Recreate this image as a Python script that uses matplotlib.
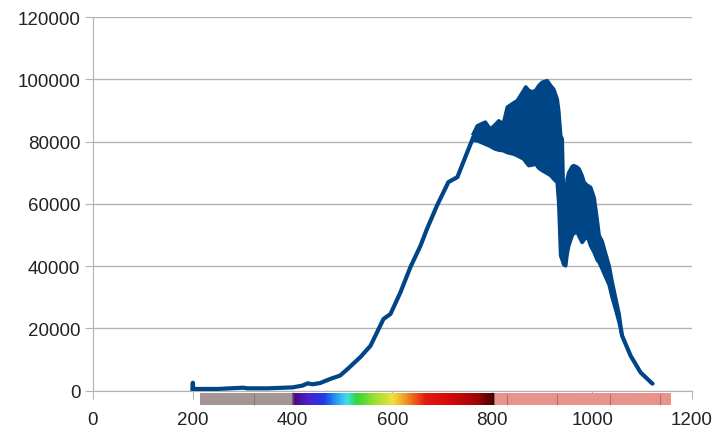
import numpy as np
import matplotlib
matplotlib.use("Agg")
import matplotlib.pyplot as plt
from matplotlib.colors import LinearSegmentedColormap

# smooth rising part of the spectrum (wavelength nm, counts)
head_wl = [199, 200, 201, 205, 250, 300, 310, 350, 400, 420, 430, 440, 455, 475,
           495, 510, 536, 556, 569, 582, 596, 616, 636, 656, 669, 689, 712, 730,
           750, 762]
head_val = [300, 2500, 300, 500, 500, 900, 700, 700, 1000, 1600, 2300, 2000, 2400, 3700,
            4800, 6900, 10800, 14400, 18700, 23000, 24600, 31600, 39700, 46500, 51900,
            59400, 67000, 68600, 76700, 81500]

# noisy region, upper and lower envelope of the signal
band_wl = [762, 770, 786, 796, 806, 813, 822, 830, 843, 850, 863, 867, 873, 880, 887, 893,
           900, 910, 917, 923, 930, 933, 937, 940, 943, 947, 950, 953, 960, 963, 970,
           974, 980, 984, 990, 997, 1004, 1010, 1014, 1020, 1027, 1034, 1040, 1048,
           1054, 1058]
band_hi = [82500, 85100, 86300, 84000, 85500, 86700, 85700, 91100, 92500, 93200, 96500, 97600,
           96500, 96000, 96500, 98000, 99100, 99600, 98000, 96900, 93700, 90000, 81900,
           80900, 60000, 62000, 68000, 70000, 72000, 72300, 71800, 71200, 69000, 66900,
           66000, 65300, 62000, 55000, 49800, 48000, 44000, 40100, 35000, 29000, 24500,
           20000]
band_lo = [80500, 80300, 79200, 78500, 77600, 77300, 77100, 76500, 76000, 75500, 74400, 73500,
           72300, 72500, 72800, 71500, 70700, 69800, 69100, 68000, 66900, 60500, 43300,
           42000, 40500, 40100, 44000, 46500, 49800, 50500, 50900, 49500, 47600, 48500,
           49800, 46500, 44400, 42000, 41200, 39100, 36500, 34000, 30000, 25500, 21900,
           19000]

# tail
tail_wl = [1058, 1060, 1077, 1097, 1118, 1121]
tail_val = [19500, 17600, 11200, 5800, 2600, 2200]

# colour strip under the axis
strip_stops = [215, 399, 400, 430, 462, 490, 508, 528, 560, 600, 630, 665, 720, 770, 805,
               806, 1157]
strip_colors = ["#a39695", "#a39695", "#4a0a70", "#4b20d0", "#1e3ce6", "#2aa8f0",
                "#3fe0e8", "#34d43a", "#90e030", "#f0e040", "#f08a20", "#e41a10",
                "#d00808", "#a00404", "#3a0000", "#e8948a", "#e8948a"]
strip_marks = [322, 830, 930, 1035, 1135]

plt.rcParams['font.family'] = ['Liberation Sans', 'DejaVu Sans']
plt.rcParams['font.size'] = 13.5

fig = plt.figure(figsize=(7.17, 4.35), dpi=100)
ax = fig.add_axes([0.1297, 0.1, 0.9651 - 0.1297, 0.958 - 0.1])

blue = "#004586"
ax.plot(head_wl, head_val, color=blue, lw=3.0, solid_capstyle='round',
        solid_joinstyle='round', zorder=4)
ax.fill_between(band_wl, band_lo, band_hi, color=blue, lw=0, zorder=4)
ax.plot(band_wl, band_hi, color=blue, lw=2.6, solid_joinstyle='round', zorder=4)
ax.plot(band_wl, band_lo, color=blue, lw=2.6, solid_joinstyle='round', zorder=4)
ax.plot(tail_wl, tail_val, color=blue, lw=3.0, solid_capstyle='round',
        solid_joinstyle='round', zorder=4)

# spectrum strip
lo, hi = strip_stops[0], strip_stops[-1]
pos = [(s - lo) / (hi - lo) for s in strip_stops]
cmap = LinearSegmentedColormap.from_list("spec", list(zip(pos, strip_colors)))
grad = np.linspace(0, 1, 1000).reshape(1, -1)
ax.imshow(grad, cmap=cmap, aspect='auto', extent=[lo, hi, -4700, -1100],
          clip_on=False, zorder=3, interpolation='bilinear')
ax.vlines(strip_marks, -4700, -1100, colors="#8a5a55", lw=0.8, alpha=0.6,
          clip_on=False, zorder=3)

ax.set_xlim(0, 1200)
ax.set_ylim(0, 120000)
ax.set_xticks(range(0, 1201, 200))
ax.set_yticks(range(0, 120001, 20000))
ax.grid(axis='y', color='#b3b3b3', lw=1)
ax.set_axisbelow(True)
for s in ['top', 'right']:
    ax.spines[s].set_visible(False)
for s in ['left', 'bottom']:
    ax.spines[s].set_color('#b3b3b3')
ax.tick_params(axis='y', length=6, color='#b3b3b3', pad=3, labelcolor='#222222')
ax.tick_params(axis='x', length=6, color='#b3b3b3', pad=9, labelcolor='#222222')

fig.savefig("out.png", dpi=100)
